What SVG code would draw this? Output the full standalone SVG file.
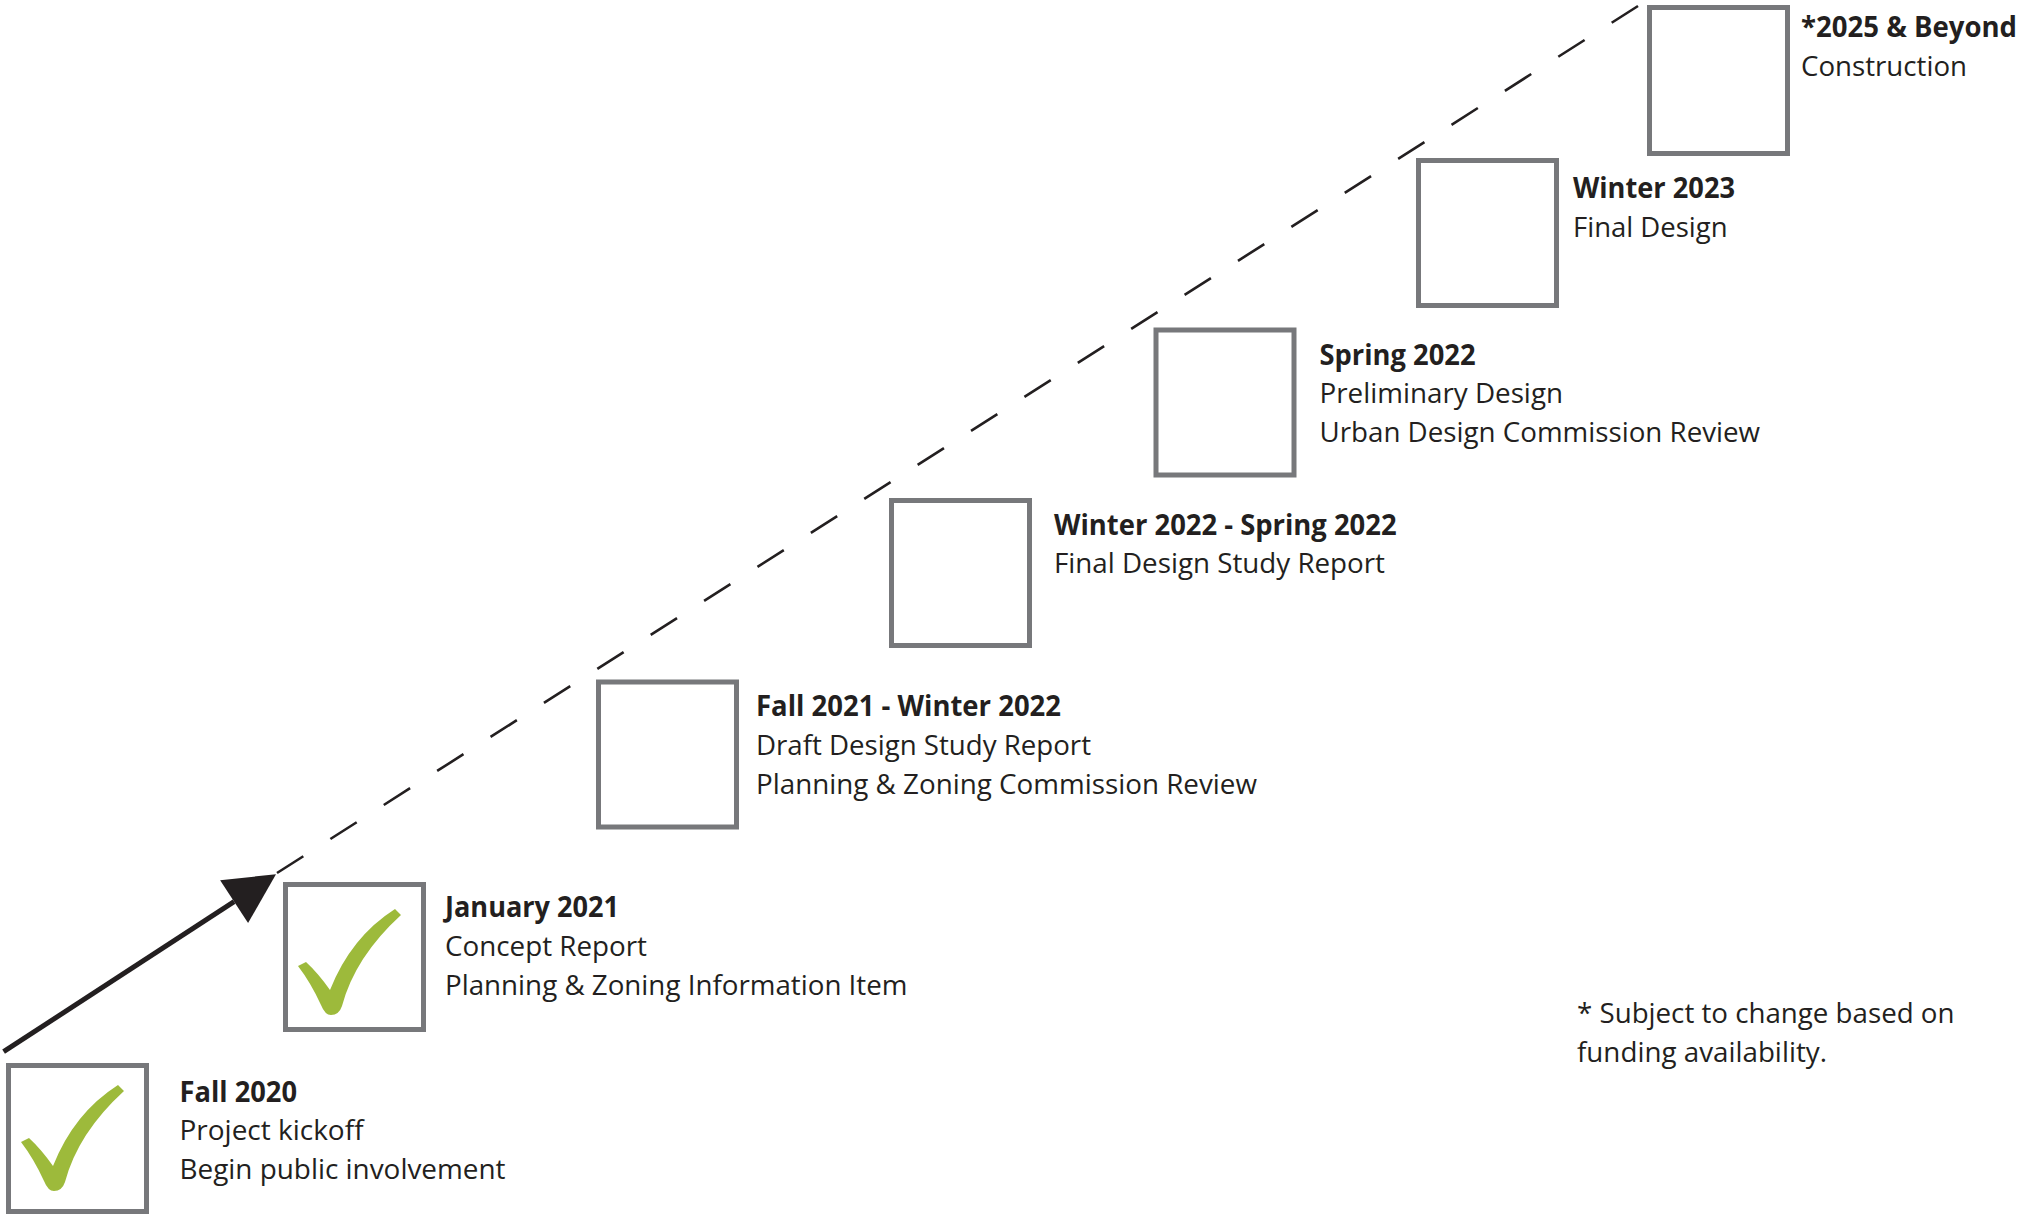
<svg xmlns="http://www.w3.org/2000/svg" width="2020" height="1216" viewBox="0 0 2020 1216">
<style>
.box{fill:#fff;stroke:#77787b;stroke-width:5}
.chk{fill:#9dba3b}
text{font-family:"Open Sans","Noto Sans","Liberation Sans",sans-serif;font-size:28px;fill:#231f20}
.t{font-weight:700}
.dash{fill:none;stroke:#231f20;stroke-width:2.6;stroke-dasharray:31.2 32.1}
.solid{fill:none;stroke:#231f20;stroke-width:5}
</style>
<defs>
<path id="check" class="chk" d="M15,79 L23,75 Q35,86 47,103 Q68,50 112,22 L118,28 Q72,70 59,119 Q56,128 48,128 Q42,128 38,118 Q28,96 15,79 Z"/>
<marker id="ah" markerUnits="userSpaceOnUse" markerWidth="60" markerHeight="60" refX="0" refY="0" viewBox="0 -30 55 60" orient="auto" overflow="visible">
<path d="M0,-25.6 L50,0 L0,25.6 Z" fill="#231f20"/>
</marker>
</defs>
<g id="connectors">
<line class="dash" x1="277" y1="873" x2="1638" y2="6"/>
<line class="solid" x1="3.6" y1="1051.7" x2="234.1" y2="901.6" marker-end="url(#ah)"/>
</g>
<g id="n1">
<rect class="box" x="8.5" y="1065.5" width="138" height="146"/>
<use href="#check" transform="translate(6,1063)"/>
<text class="t" x="179.5" y="1101.5" textLength="117.5" lengthAdjust="spacingAndGlyphs">Fall 2020</text>
<text x="179.5" y="1140" textLength="184" lengthAdjust="spacingAndGlyphs">Project kickoff</text>
<text x="179.5" y="1178.5" textLength="326" lengthAdjust="spacingAndGlyphs">Begin public involvement</text>
</g>
<g id="n2">
<rect class="box" x="285.5" y="884.5" width="138" height="145"/>
<use href="#check" transform="translate(283,887)"/>
<text class="t" x="445" y="917.3" textLength="174" lengthAdjust="spacingAndGlyphs">January 2021</text>
<text x="445" y="956" textLength="202" lengthAdjust="spacingAndGlyphs">Concept Report</text>
<text x="445" y="994.6" textLength="462.5" lengthAdjust="spacingAndGlyphs">Planning &amp; Zoning Information Item</text>
</g>
<g id="n3">
<rect class="box" x="598.5" y="682" width="138" height="145"/>
<text class="t" x="756" y="716.3" textLength="305" lengthAdjust="spacingAndGlyphs">Fall 2021 - Winter 2022</text>
<text x="756" y="755" textLength="335" lengthAdjust="spacingAndGlyphs">Draft Design Study Report</text>
<text x="756" y="793.6" textLength="501" lengthAdjust="spacingAndGlyphs">Planning &amp; Zoning Commission Review</text>
</g>
<g id="n4">
<rect class="box" x="891.5" y="500.5" width="138" height="145"/>
<text class="t" x="1054" y="534.6" textLength="342.6" lengthAdjust="spacingAndGlyphs">Winter 2022 - Spring 2022</text>
<text x="1054" y="573.3" textLength="331" lengthAdjust="spacingAndGlyphs">Final Design Study Report</text>
</g>
<g id="n5">
<rect class="box" x="1156" y="330" width="138" height="145"/>
<text class="t" x="1319.5" y="364.6" textLength="156" lengthAdjust="spacingAndGlyphs">Spring 2022</text>
<text x="1319.5" y="403.2" textLength="243.5" lengthAdjust="spacingAndGlyphs">Preliminary Design</text>
<text x="1319.5" y="441.9" textLength="440.6" lengthAdjust="spacingAndGlyphs">Urban Design Commission Review</text>
</g>
<g id="n6">
<rect class="box" x="1418.5" y="160.5" width="138" height="145"/>
<text class="t" x="1573" y="198.4" textLength="162" lengthAdjust="spacingAndGlyphs">Winter 2023</text>
<text x="1573" y="237" textLength="154.6" lengthAdjust="spacingAndGlyphs">Final Design</text>
</g>
<g id="n7">
<rect class="box" x="1649.5" y="7.5" width="138" height="146"/>
<text class="t" x="1801" y="37.4" textLength="216" lengthAdjust="spacingAndGlyphs">*2025 &amp; Beyond</text>
<text x="1801" y="76" textLength="166" lengthAdjust="spacingAndGlyphs">Construction</text>
</g>
<g id="note">
<text x="1577" y="1023" textLength="377.5" lengthAdjust="spacingAndGlyphs">* Subject to change based on</text>
<text x="1577" y="1061.6" textLength="250" lengthAdjust="spacingAndGlyphs">funding availability.</text>
</g>
</svg>
